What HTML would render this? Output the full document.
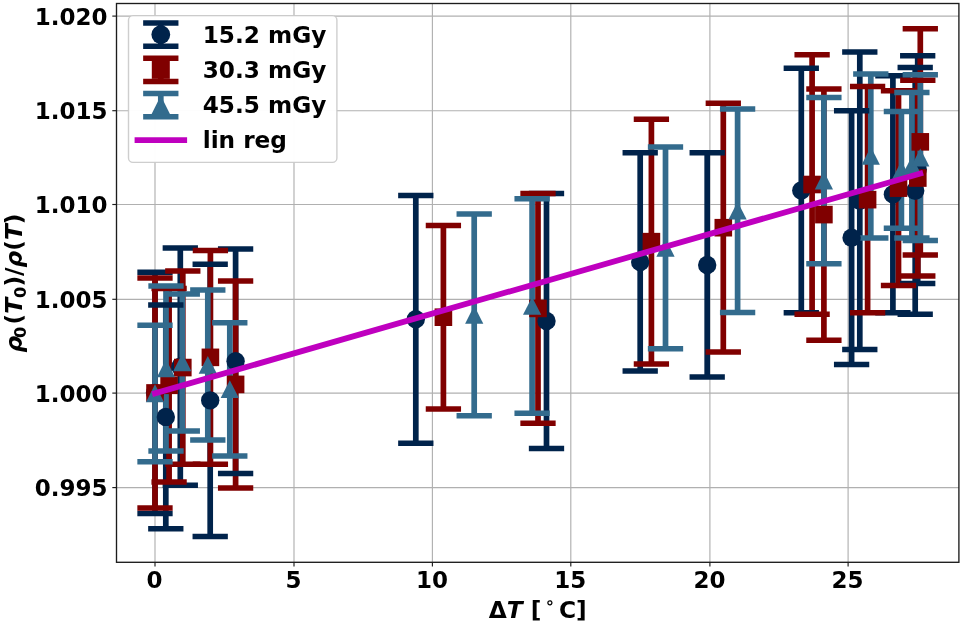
<!DOCTYPE html>
<html lang="en"><head><meta charset="utf-8"><title>Density ratio vs temperature difference</title>
<style>html,body{margin:0;padding:0;background:#fff}body{width:962px;height:625px;overflow:hidden}svg{display:block}text{font-family:"DejaVu Sans","Liberation Sans",sans-serif;font-weight:bold;fill:#000}</style></head><body>
<svg width="962" height="625" viewBox="0 0 962 625">
<rect width="962" height="625" fill="#fff"/>
<g stroke="#b0b0b0" stroke-width="1.15">
<line x1="155" y1="3.5" x2="155" y2="562.3"/>
<line x1="294" y1="3.5" x2="294" y2="562.3"/>
<line x1="432.4" y1="3.5" x2="432.4" y2="562.3"/>
<line x1="570.8" y1="3.5" x2="570.8" y2="562.3"/>
<line x1="709.9" y1="3.5" x2="709.9" y2="562.3"/>
<line x1="848.1" y1="3.5" x2="848.1" y2="562.3"/>
<line x1="116.5" y1="16.1" x2="958.9" y2="16.1"/>
<line x1="116.5" y1="110.7" x2="958.9" y2="110.7"/>
<line x1="116.5" y1="204.5" x2="958.9" y2="204.5"/>
<line x1="116.5" y1="299.3" x2="958.9" y2="299.3"/>
<line x1="116.5" y1="393.1" x2="958.9" y2="393.1"/>
<line x1="116.5" y1="487.6" x2="958.9" y2="487.6"/>
</g>
<g stroke="#00234b" stroke-width="5.7">
<line x1="155" y1="272.3" x2="155" y2="513.4"/>
<line x1="165.8" y1="305.1" x2="165.8" y2="528.7"/>
<line x1="180.3" y1="248.1" x2="180.3" y2="485.3"/>
<line x1="210.2" y1="264.3" x2="210.2" y2="536.4"/>
<line x1="235.6" y1="248.9" x2="235.6" y2="473.5"/>
<line x1="415.8" y1="195.4" x2="415.8" y2="443.2"/>
<line x1="546.5" y1="193.5" x2="546.5" y2="448.4"/>
<line x1="640.2" y1="152.8" x2="640.2" y2="371.1"/>
<line x1="707.2" y1="152.8" x2="707.2" y2="377.1"/>
<line x1="801.3" y1="68.2" x2="801.3" y2="312.7"/>
<line x1="851.6" y1="110.8" x2="851.6" y2="364.5"/>
<line x1="859.8" y1="52.1" x2="859.8" y2="349.5"/>
<line x1="892.9" y1="75.7" x2="892.9" y2="312.7"/>
<line x1="915.2" y1="67.4" x2="915.2" y2="314.3"/>
<line x1="917.7" y1="55.7" x2="917.7" y2="283.4"/>
</g>
<g stroke="#800000" stroke-width="5.7">
<line x1="155" y1="278" x2="155" y2="507.9"/>
<line x1="169.1" y1="288.5" x2="169.1" y2="482.1"/>
<line x1="182.8" y1="270.9" x2="182.8" y2="464.2"/>
<line x1="210.4" y1="250.5" x2="210.4" y2="464.2"/>
<line x1="235.6" y1="280.9" x2="235.6" y2="487.9"/>
<line x1="443.4" y1="225.5" x2="443.4" y2="408.9"/>
<line x1="538" y1="193.5" x2="538" y2="423.3"/>
<line x1="651.4" y1="119.3" x2="651.4" y2="364"/>
<line x1="723.3" y1="103.3" x2="723.3" y2="352.1"/>
<line x1="812.1" y1="54.7" x2="812.1" y2="314.3"/>
<line x1="823.9" y1="89" x2="823.9" y2="340.2"/>
<line x1="867.6" y1="86.6" x2="867.6" y2="312.7"/>
<line x1="898.5" y1="90.7" x2="898.5" y2="285.6"/>
<line x1="917.8" y1="80.2" x2="917.8" y2="275.9"/>
<line x1="920.3" y1="28.8" x2="920.3" y2="254.9"/>
</g>
<g stroke="#336b8d" stroke-width="5.7">
<line x1="155" y1="325.2" x2="155" y2="461.7"/>
<line x1="166" y1="285.9" x2="166" y2="450.9"/>
<line x1="182.3" y1="294" x2="182.3" y2="430.9"/>
<line x1="207.8" y1="290.1" x2="207.8" y2="440"/>
<line x1="229.8" y1="322.7" x2="229.8" y2="455.9"/>
<line x1="474.2" y1="213.9" x2="474.2" y2="415.8"/>
<line x1="532.1" y1="198.7" x2="532.1" y2="413.3"/>
<line x1="665.5" y1="146.9" x2="665.5" y2="348.8"/>
<line x1="737.6" y1="109.1" x2="737.6" y2="312.5"/>
<line x1="823.9" y1="97.5" x2="823.9" y2="263.8"/>
<line x1="870.8" y1="73.9" x2="870.8" y2="238"/>
<line x1="901.4" y1="111.6" x2="901.4" y2="228.2"/>
<line x1="911.9" y1="92.6" x2="911.9" y2="238"/>
<line x1="920.3" y1="74.8" x2="920.3" y2="240.6"/>
</g>
<g stroke="#00234b" stroke-width="5.5">
<line x1="137.35" y1="272.3" x2="172.65" y2="272.3"/>
<line x1="137.35" y1="513.4" x2="172.65" y2="513.4"/>
<line x1="148.15" y1="305.1" x2="183.45" y2="305.1"/>
<line x1="148.15" y1="528.7" x2="183.45" y2="528.7"/>
<line x1="162.65" y1="248.1" x2="197.95" y2="248.1"/>
<line x1="162.65" y1="485.3" x2="197.95" y2="485.3"/>
<line x1="192.55" y1="264.3" x2="227.85" y2="264.3"/>
<line x1="192.55" y1="536.4" x2="227.85" y2="536.4"/>
<line x1="217.95" y1="248.9" x2="253.25" y2="248.9"/>
<line x1="217.95" y1="473.5" x2="253.25" y2="473.5"/>
<line x1="398.15" y1="195.4" x2="433.45" y2="195.4"/>
<line x1="398.15" y1="443.2" x2="433.45" y2="443.2"/>
<line x1="528.85" y1="193.5" x2="564.15" y2="193.5"/>
<line x1="528.85" y1="448.4" x2="564.15" y2="448.4"/>
<line x1="622.55" y1="152.8" x2="657.85" y2="152.8"/>
<line x1="622.55" y1="371.1" x2="657.85" y2="371.1"/>
<line x1="689.55" y1="152.8" x2="724.85" y2="152.8"/>
<line x1="689.55" y1="377.1" x2="724.85" y2="377.1"/>
<line x1="783.65" y1="68.2" x2="818.95" y2="68.2"/>
<line x1="783.65" y1="312.7" x2="818.95" y2="312.7"/>
<line x1="833.95" y1="110.8" x2="869.25" y2="110.8"/>
<line x1="833.95" y1="364.5" x2="869.25" y2="364.5"/>
<line x1="842.15" y1="52.1" x2="877.45" y2="52.1"/>
<line x1="842.15" y1="349.5" x2="877.45" y2="349.5"/>
<line x1="875.25" y1="75.7" x2="910.55" y2="75.7"/>
<line x1="875.25" y1="312.7" x2="910.55" y2="312.7"/>
<line x1="897.55" y1="67.4" x2="932.85" y2="67.4"/>
<line x1="897.55" y1="314.3" x2="932.85" y2="314.3"/>
<line x1="900.05" y1="55.7" x2="935.35" y2="55.7"/>
<line x1="900.05" y1="283.4" x2="935.35" y2="283.4"/>
</g>
<g stroke="#800000" stroke-width="5.5">
<line x1="137.35" y1="278" x2="172.65" y2="278"/>
<line x1="137.35" y1="507.9" x2="172.65" y2="507.9"/>
<line x1="151.45" y1="288.5" x2="186.75" y2="288.5"/>
<line x1="151.45" y1="482.1" x2="186.75" y2="482.1"/>
<line x1="165.15" y1="270.9" x2="200.45" y2="270.9"/>
<line x1="165.15" y1="464.2" x2="200.45" y2="464.2"/>
<line x1="192.75" y1="250.5" x2="228.05" y2="250.5"/>
<line x1="192.75" y1="464.2" x2="228.05" y2="464.2"/>
<line x1="217.95" y1="280.9" x2="253.25" y2="280.9"/>
<line x1="217.95" y1="487.9" x2="253.25" y2="487.9"/>
<line x1="425.75" y1="225.5" x2="461.05" y2="225.5"/>
<line x1="425.75" y1="408.9" x2="461.05" y2="408.9"/>
<line x1="520.35" y1="193.5" x2="555.65" y2="193.5"/>
<line x1="520.35" y1="423.3" x2="555.65" y2="423.3"/>
<line x1="633.75" y1="119.3" x2="669.05" y2="119.3"/>
<line x1="633.75" y1="364" x2="669.05" y2="364"/>
<line x1="705.65" y1="103.3" x2="740.95" y2="103.3"/>
<line x1="705.65" y1="352.1" x2="740.95" y2="352.1"/>
<line x1="794.45" y1="54.7" x2="829.75" y2="54.7"/>
<line x1="794.45" y1="314.3" x2="829.75" y2="314.3"/>
<line x1="806.25" y1="89" x2="841.55" y2="89"/>
<line x1="806.25" y1="340.2" x2="841.55" y2="340.2"/>
<line x1="849.95" y1="86.6" x2="885.25" y2="86.6"/>
<line x1="849.95" y1="312.7" x2="885.25" y2="312.7"/>
<line x1="880.85" y1="90.7" x2="916.15" y2="90.7"/>
<line x1="880.85" y1="285.6" x2="916.15" y2="285.6"/>
<line x1="900.15" y1="80.2" x2="935.45" y2="80.2"/>
<line x1="900.15" y1="275.9" x2="935.45" y2="275.9"/>
<line x1="902.65" y1="28.8" x2="937.95" y2="28.8"/>
<line x1="902.65" y1="254.9" x2="937.95" y2="254.9"/>
</g>
<g stroke="#336b8d" stroke-width="5.5">
<line x1="137.35" y1="325.2" x2="172.65" y2="325.2"/>
<line x1="137.35" y1="461.7" x2="172.65" y2="461.7"/>
<line x1="148.35" y1="285.9" x2="183.65" y2="285.9"/>
<line x1="148.35" y1="450.9" x2="183.65" y2="450.9"/>
<line x1="164.65" y1="294" x2="199.95" y2="294"/>
<line x1="164.65" y1="430.9" x2="199.95" y2="430.9"/>
<line x1="190.15" y1="290.1" x2="225.45" y2="290.1"/>
<line x1="190.15" y1="440" x2="225.45" y2="440"/>
<line x1="212.15" y1="322.7" x2="247.45" y2="322.7"/>
<line x1="212.15" y1="455.9" x2="247.45" y2="455.9"/>
<line x1="456.55" y1="213.9" x2="491.85" y2="213.9"/>
<line x1="456.55" y1="415.8" x2="491.85" y2="415.8"/>
<line x1="514.45" y1="198.7" x2="549.75" y2="198.7"/>
<line x1="514.45" y1="413.3" x2="549.75" y2="413.3"/>
<line x1="647.85" y1="146.9" x2="683.15" y2="146.9"/>
<line x1="647.85" y1="348.8" x2="683.15" y2="348.8"/>
<line x1="719.95" y1="109.1" x2="755.25" y2="109.1"/>
<line x1="719.95" y1="312.5" x2="755.25" y2="312.5"/>
<line x1="806.25" y1="97.5" x2="841.55" y2="97.5"/>
<line x1="806.25" y1="263.8" x2="841.55" y2="263.8"/>
<line x1="853.15" y1="73.9" x2="888.45" y2="73.9"/>
<line x1="853.15" y1="238" x2="888.45" y2="238"/>
<line x1="883.75" y1="111.6" x2="919.05" y2="111.6"/>
<line x1="883.75" y1="228.2" x2="919.05" y2="228.2"/>
<line x1="894.25" y1="92.6" x2="929.55" y2="92.6"/>
<line x1="894.25" y1="238" x2="929.55" y2="238"/>
<line x1="902.65" y1="74.8" x2="937.95" y2="74.8"/>
<line x1="902.65" y1="240.6" x2="937.95" y2="240.6"/>
</g>
<g>
<circle cx="155" cy="392.85" r="9.2" fill="#00234b"/>
<circle cx="165.8" cy="416.9" r="9.2" fill="#00234b"/>
<circle cx="180.3" cy="366.7" r="9.2" fill="#00234b"/>
<circle cx="210.2" cy="400.35" r="9.2" fill="#00234b"/>
<circle cx="235.6" cy="361.2" r="9.2" fill="#00234b"/>
<circle cx="415.8" cy="319.3" r="9.2" fill="#00234b"/>
<circle cx="546.5" cy="320.95" r="9.2" fill="#00234b"/>
<circle cx="640.2" cy="261.95" r="9.2" fill="#00234b"/>
<circle cx="707.2" cy="264.95" r="9.2" fill="#00234b"/>
<circle cx="801.3" cy="190.45" r="9.2" fill="#00234b"/>
<circle cx="851.6" cy="237.65" r="9.2" fill="#00234b"/>
<circle cx="859.8" cy="200.8" r="9.2" fill="#00234b"/>
<circle cx="892.9" cy="194.2" r="9.2" fill="#00234b"/>
<circle cx="915.2" cy="190.85" r="9.2" fill="#00234b"/>
<circle cx="917.7" cy="169.55" r="9.2" fill="#00234b"/>
</g>
<g>
<rect x="146.2" y="384.15" width="17.6" height="17.6" fill="#800000"/>
<rect x="160.3" y="376.5" width="17.6" height="17.6" fill="#800000"/>
<rect x="174" y="358.75" width="17.6" height="17.6" fill="#800000"/>
<rect x="201.6" y="348.55" width="17.6" height="17.6" fill="#800000"/>
<rect x="226.8" y="375.6" width="17.6" height="17.6" fill="#800000"/>
<rect x="434.6" y="308.4" width="17.6" height="17.6" fill="#800000"/>
<rect x="529.2" y="299.6" width="17.6" height="17.6" fill="#800000"/>
<rect x="642.6" y="232.85" width="17.6" height="17.6" fill="#800000"/>
<rect x="714.5" y="218.9" width="17.6" height="17.6" fill="#800000"/>
<rect x="803.3" y="175.7" width="17.6" height="17.6" fill="#800000"/>
<rect x="815.1" y="205.8" width="17.6" height="17.6" fill="#800000"/>
<rect x="858.8" y="190.85" width="17.6" height="17.6" fill="#800000"/>
<rect x="889.7" y="179.35" width="17.6" height="17.6" fill="#800000"/>
<rect x="909" y="169.25" width="17.6" height="17.6" fill="#800000"/>
<rect x="911.5" y="133.05" width="17.6" height="17.6" fill="#800000"/>
</g>
<g>
<path d="M155 384.35L164.1 402.25H145.9Z" fill="#336b8d"/>
<path d="M166 359.3L175.1 377.2H156.9Z" fill="#336b8d"/>
<path d="M182.3 353.35L191.4 371.25H173.2Z" fill="#336b8d"/>
<path d="M207.8 355.95L216.9 373.85H198.7Z" fill="#336b8d"/>
<path d="M229.8 380.2L238.9 398.1H220.7Z" fill="#336b8d"/>
<path d="M474.2 305.75L483.3 323.65H465.1Z" fill="#336b8d"/>
<path d="M532.1 296.9L541.2 314.8H523Z" fill="#336b8d"/>
<path d="M665.5 238.75L674.6 256.65H656.4Z" fill="#336b8d"/>
<path d="M737.6 201.7L746.7 219.6H728.5Z" fill="#336b8d"/>
<path d="M823.9 171.55L833 189.45H814.8Z" fill="#336b8d"/>
<path d="M870.8 146.85L879.9 164.75H861.7Z" fill="#336b8d"/>
<path d="M901.4 160.8L910.5 178.7H892.3Z" fill="#336b8d"/>
<path d="M911.9 156.2L921 174.1H902.8Z" fill="#336b8d"/>
<path d="M920.3 148.6L929.4 166.5H911.2Z" fill="#336b8d"/>
</g>
<line x1="155" y1="393.3" x2="920.3" y2="173.5" stroke="#bf00bf" stroke-width="5.8" stroke-linecap="square"/>
<rect x="116.5" y="3.5" width="842.4" height="558.8" fill="none" stroke="#1c1c1c" stroke-width="1.35"/>
<g stroke="#1c1c1c" stroke-width="1.15">
<line x1="155" y1="562.3" x2="155" y2="566.5"/>
<line x1="294" y1="562.3" x2="294" y2="566.5"/>
<line x1="432.4" y1="562.3" x2="432.4" y2="566.5"/>
<line x1="570.8" y1="562.3" x2="570.8" y2="566.5"/>
<line x1="709.9" y1="562.3" x2="709.9" y2="566.5"/>
<line x1="848.1" y1="562.3" x2="848.1" y2="566.5"/>
<line x1="112.3" y1="16.1" x2="116.5" y2="16.1"/>
<line x1="112.3" y1="110.7" x2="116.5" y2="110.7"/>
<line x1="112.3" y1="204.5" x2="116.5" y2="204.5"/>
<line x1="112.3" y1="299.3" x2="116.5" y2="299.3"/>
<line x1="112.3" y1="393.1" x2="116.5" y2="393.1"/>
<line x1="112.3" y1="487.6" x2="116.5" y2="487.6"/>
</g>
<g font-size="23" text-anchor="middle">
<text x="154.5" y="587.8">0</text>
<text x="293.5" y="587.8">5</text>
<text x="431.9" y="587.8">10</text>
<text x="570.3" y="587.8">15</text>
<text x="709.4" y="587.8">20</text>
<text x="847.6" y="587.8">25</text>
</g>
<g font-size="23" text-anchor="end">
<text x="107.6" y="24.55">1.020</text>
<text x="107.6" y="119.15">1.015</text>
<text x="107.6" y="212.95">1.010</text>
<text x="107.6" y="307.75">1.005</text>
<text x="107.6" y="401.55">1.000</text>
<text x="107.6" y="496.05">0.995</text>
</g>
<text x="537.75" y="617.9" font-size="23.3" text-anchor="middle"><tspan>Δ</tspan><tspan font-style="oblique">T</tspan><tspan> [</tspan><tspan dy="-9.5" font-size="16.3" dx="3.3">∘</tspan><tspan dy="9.5" dx="4">C]</tspan></text>
<text transform="translate(22.3,352.5) rotate(-90)" font-size="23.3"><tspan font-style="oblique">ρ</tspan><tspan font-size="16.3" dy="3.7" dx="-2.1">0</tspan><tspan dy="-3.7" dx="2.1">(</tspan><tspan font-style="oblique">T</tspan><tspan font-size="16.3" dy="3.7">0</tspan><tspan dy="-3.7">)/</tspan><tspan font-style="oblique">ρ</tspan><tspan>(</tspan><tspan font-style="oblique">T</tspan><tspan>)</tspan></text>
<rect x="128.5" y="15.6" width="208.4" height="146.8" rx="4.5" fill="#fff" fill-opacity="0.97" stroke="#c6c6c6" stroke-opacity="0.85" stroke-width="1.4"/>
<g stroke="#00234b"><line x1="160.8" y1="23.0" x2="160.8" y2="46.2" stroke-width="5.7"/><line x1="143.15" y1="23.0" x2="178.45" y2="23.0" stroke-width="5.5"/><line x1="143.15" y1="46.2" x2="178.45" y2="46.2" stroke-width="5.5"/></g>
<circle cx="160.8" cy="34.6" r="9.4" fill="#00234b"/>
<g stroke="#800000"><line x1="160.8" y1="58.3" x2="160.8" y2="81.4" stroke-width="5.7"/><line x1="143.15" y1="58.3" x2="178.45" y2="58.3" stroke-width="5.5"/><line x1="143.15" y1="81.4" x2="178.45" y2="81.4" stroke-width="5.5"/></g>
<rect x="151.8" y="60.85" width="18" height="18" fill="#800000"/>
<g stroke="#336b8d"><line x1="160.8" y1="93.6" x2="160.8" y2="116.7" stroke-width="5.7"/><line x1="143.15" y1="93.6" x2="178.45" y2="93.6" stroke-width="5.5"/><line x1="143.15" y1="116.7" x2="178.45" y2="116.7" stroke-width="5.5"/></g>
<path d="M160.8 95.85L170.1 114.15H151.5Z" fill="#336b8d"/>
<line x1="134.6" y1="140.2" x2="187.1" y2="140.2" stroke="#bf00bf" stroke-width="5.8"/>
<g font-size="23.2">
<text x="202.7" y="42.5">15.2 mGy</text>
<text x="202.7" y="77.5">30.3 mGy</text>
<text x="202.7" y="112.6">45.5 mGy</text>
<text x="202.7" y="147.8">lin reg</text>
</g>
</svg></body></html>
